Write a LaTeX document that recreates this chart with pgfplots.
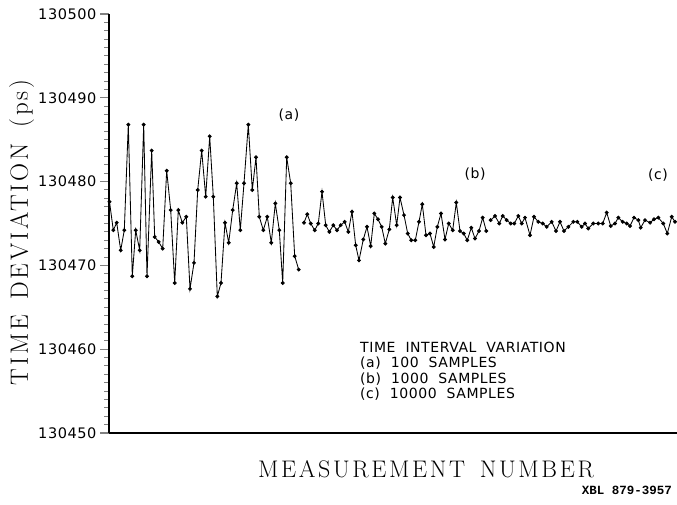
\documentclass[border=0pt]{standalone}
\usepackage{fontspec}
\usepackage{pgfplots}
\pgfplotsset{compat=1.18}
\newfontfamily\plotfont{DejaVu Sans}[LetterSpace=4,WordSpace=2]
\newfontfamily\serifwide{Latin Modern Roman}[LetterSpace=11,WordSpace=1.5]
\newfontfamily\stampfont{Liberation Mono}

\begin{document}
\begin{tikzpicture}[x=1pt,y=1pt]
\useasboundingbox (0,0) rectangle (677,505);

\begin{axis}[
at={(109pt,72pt)}, anchor=south west,
scale only axis, width=568pt, height=419pt,
xmin=109, xmax=677,
ymin=130450, ymax=130500,
axis x line=bottom, axis y line=left,
axis line style={-, line width=1.6pt},
xtick=\empty,
ytick={130450,130460,130470,130480,130490,130500},
yticklabels={130450,130460,130470,130480,130490,130500},
scaled y ticks=false,
minor y tick num=9,
tick align=outside,
major tick length=9pt, minor tick length=5pt,
ytick style={line width=1.2pt},
minor y tick style={line width=1pt},
yticklabel style={font=\plotfont\fontsize{14.5}{15}\selectfont},
clip=false
]
% (a) 100 samples
\addplot[black, line width=0.85pt, mark=*, mark size=1.5pt] table {
109.5 130477.6
113.3 130474.2
116.7 130475.1
120.7 130471.8
124.3 130474.2
128.3 130486.8
132.3 130468.7
135.7 130474.2
139.7 130471.8
143.7 130486.8
147.0 130468.7
151.7 130483.7
154.7 130473.4
158.7 130472.8
162.7 130472.0
166.7 130481.3
170.7 130476.6
174.7 130467.9
178.3 130476.6
182.3 130475.1
186.3 130475.8
190.0 130467.2
194.0 130470.3
197.7 130479.0
201.7 130483.7
205.7 130478.2
209.7 130485.4
213.3 130478.2
217.3 130466.3
221.0 130467.9
225.0 130475.1
228.7 130472.7
232.7 130476.6
236.7 130479.8
240.3 130474.2
244.0 130479.8
248.3 130486.8
252.3 130479.0
256.0 130482.9
259.3 130475.8
263.3 130474.2
267.3 130475.8
271.3 130472.7
275.3 130477.4
279.3 130474.2
282.7 130467.9
286.7 130482.9
290.7 130479.8
294.7 130471.1
298.7 130469.5
};
% (b) 1000 samples
\addplot[black, line width=0.85pt, mark=*, mark size=1.5pt] table {
304.0 130475.1
307.3 130476.1
310.7 130475.0
314.7 130474.2
318.3 130475.0
322.0 130478.8
325.7 130474.8
329.3 130474.0
333.3 130474.8
337.0 130474.2
340.7 130474.8
344.7 130475.2
348.3 130474.0
352.0 130476.4
355.7 130472.4
359.0 130470.6
363.3 130473.1
367.0 130474.6
370.7 130472.3
374.3 130476.2
378.0 130475.5
381.7 130474.6
385.3 130472.6
389.3 130474.3
392.7 130478.1
396.7 130474.8
400.0 130478.1
404.0 130476.0
407.7 130473.8
411.3 130473.0
415.3 130473.0
419.0 130475.2
422.3 130477.3
426.0 130473.6
430.0 130473.8
433.7 130472.2
437.3 130474.6
441.0 130476.2
445.0 130473.1
448.7 130475.0
452.7 130474.2
456.3 130477.5
460.0 130474.1
463.7 130473.8
467.3 130473.0
471.3 130474.5
475.0 130473.2
479.0 130474.1
482.7 130475.7
486.3 130474.1
};
% (c) 10000 samples
\addplot[black, line width=0.85pt, mark=*, mark size=1.5pt] table {
490.7 130475.4
495.0 130475.9
499.3 130475.0
502.7 130475.9
506.7 130475.4
510.7 130475.0
514.3 130475.0
518.3 130475.9
521.7 130475.0
525.0 130475.7
530.0 130473.6
534.0 130475.8
538.3 130475.2
542.7 130475.0
546.7 130474.6
551.7 130475.2
556.0 130474.1
560.0 130475.2
564.0 130474.1
568.3 130474.6
573.3 130475.2
577.3 130475.2
581.7 130474.6
585.0 130475.0
588.3 130474.4
593.3 130475.0
598.3 130475.0
602.7 130475.0
606.7 130476.3
610.7 130474.7
615.0 130475.0
618.3 130475.7
622.7 130475.2
626.7 130475.0
630.0 130474.7
634.0 130475.7
638.3 130475.4
640.7 130474.5
645.0 130475.4
650.0 130475.1
654.0 130475.5
658.3 130475.7
663.3 130475.0
667.3 130473.8
671.7 130475.8
675.0 130475.2
};
\end{axis}

% texts, in page points (1pt = 1 reference pixel)
\node[font=\plotfont\fontsize{14}{14}\selectfont] at (289,390) {(a)};
\node[font=\plotfont\fontsize{14}{14}\selectfont] at (475,330.5) {(b)};
\node[font=\plotfont\fontsize{14}{14}\selectfont] at (658,330) {(c)};

\begin{scope}[every node/.style={anchor=base west, inner sep=0pt, font=\plotfont\fontsize{14}{14}\selectfont}]
\node at (360,152.3) {TIME INTERVAL VARIATION};
\node at (360,137.3) {(a) 100 SAMPLES};
\node at (360,121.7) {(b) 1000 SAMPLES};
\node at (360,106) {(c) 10000 SAMPLES};
\end{scope}

\node[anchor=base, inner sep=0pt, font=\serifwide\fontsize{24}{24}\selectfont] at (426,27) {MEASUREMENT NUMBER};
\node[rotate=90, anchor=base, inner sep=0pt, font=\serifwide\fontsize{25}{25}\selectfont] at (28,272.5) {TIME DEVIATION (ps)};
\node[anchor=base east, inner sep=0pt, font=\stampfont\bfseries\fontsize{12.5}{13}\selectfont] at (672,10) {XBL 879-3957};
\end{tikzpicture}
\end{document}
